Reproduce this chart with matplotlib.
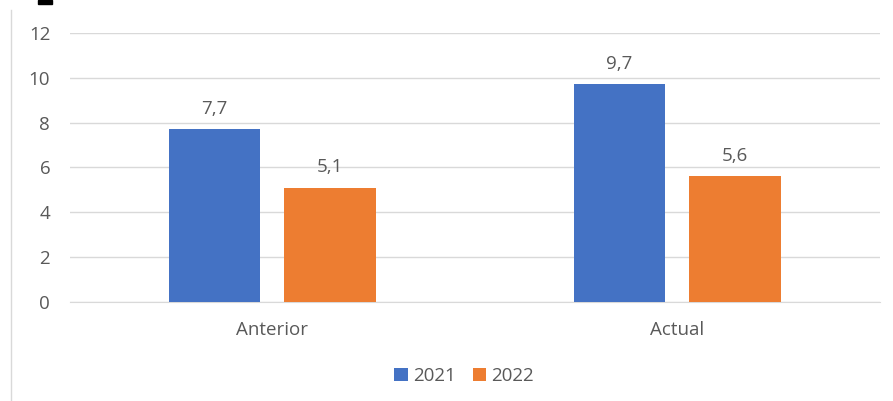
import matplotlib.pyplot as plt
from matplotlib.patches import Rectangle
import numpy as np

categories = ['Anterior', 'Actual']
series_names = ['2021', '2022']
values_2021 = [7.7, 9.7]
values_2022 = [5.1, 5.6]
colors = ['#4472C4', '#ED7D31']

plt.rcParams['font.family'] = ['Open Sans', 'DejaVu Sans']
text_gray = '#595959'
fs = 13.5

fig = plt.figure(figsize=(8.93, 4.01), dpi=100)
ax = fig.add_axes([0.078, 0.247, 0.907, 0.671])

x = np.arange(len(categories))
w = 0.225
off = 0.143
for vals, name, col, d in [(values_2021, series_names[0], colors[0], -off),
                           (values_2022, series_names[1], colors[1], off)]:
    bars = ax.bar(x + d, vals, w, color=col, label=name, zorder=3)
    for b, v in zip(bars, vals):
        ax.text(b.get_x() + b.get_width() / 2, v + 0.5, f'{v:.1f}'.replace('.', ','),
                ha='center', va='bottom', fontsize=fs, color=text_gray)

ax.set_xlim(-0.5, 1.5)
ax.set_ylim(0, 12)
ax.set_yticks(range(0, 13, 2))
ax.set_xticks(x, labels=categories)
ax.grid(axis='y', color='#D9D9D9', linewidth=1, zorder=0)
for s in ['top', 'right', 'left']:
    ax.spines[s].set_visible(False)
ax.spines['bottom'].set_color('#D9D9D9')
ax.tick_params(length=0, labelsize=fs, labelcolor=text_gray)
ax.tick_params(axis='y', pad=14)
ax.tick_params(axis='x', pad=14)

ax.legend(loc='center', bbox_to_anchor=(0.52, 0.062), bbox_transform=fig.transFigure,
          ncol=2, frameon=False, fontsize=fs, labelcolor=text_gray,
          handlelength=0.7, handleheight=0.7, handletextpad=0.3, columnspacing=0.9)

# chart frame edge and cut-off glyph at top
fig.add_artist(plt.Line2D([11 / 893, 11 / 893], [0, 391 / 401], color='#D9D9D9',
                          linewidth=1, transform=fig.transFigure))
fig.add_artist(Rectangle((38 / 893, 397 / 401), 14 / 893, 4 / 401, color='black',
                         transform=fig.transFigure))

fig.savefig('out.png', dpi=100)
